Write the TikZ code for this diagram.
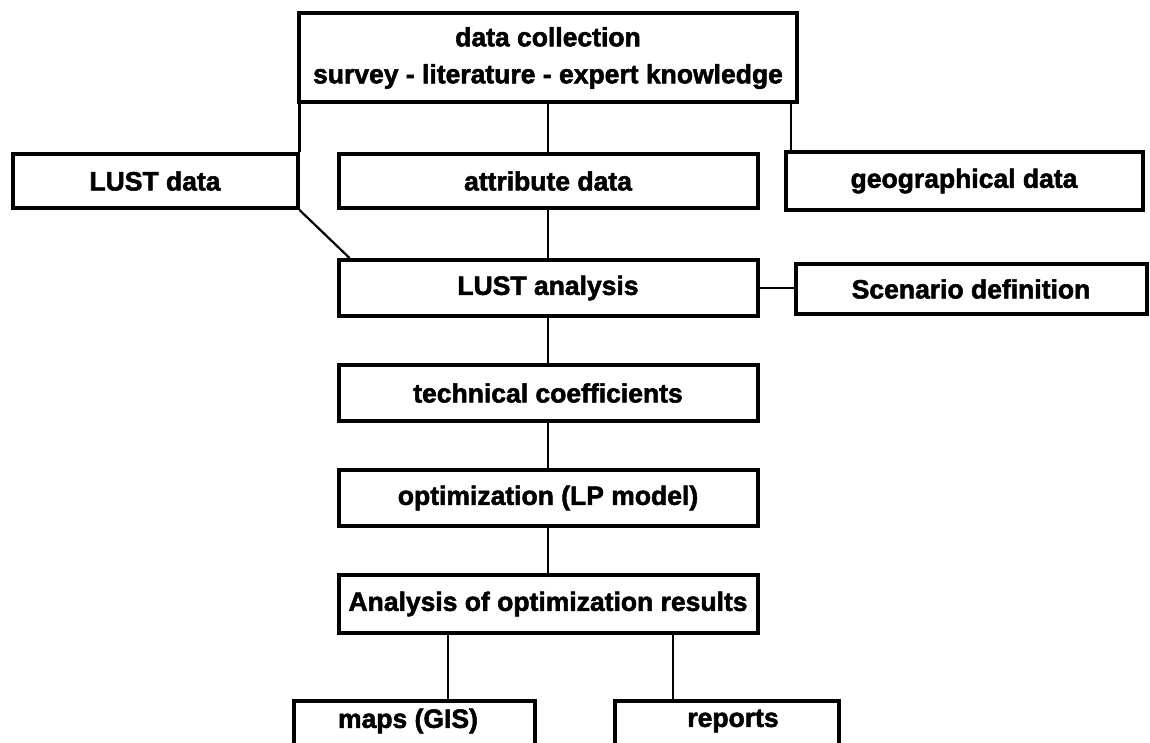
\documentclass[tikz,border=0pt]{standalone}
\usepackage{fontspec}
\setmainfont{Liberation Sans}[FakeBold=2]
\usetikzlibrary{positioning,shadows}

\begin{document}
\begin{tikzpicture}[x=1pt,y=1pt,
					thick,
					box/.style={draw,line width=4pt,fill=white,inner sep=0pt,
					  align=center,font=\fontsize{26.5}{37}\selectfont\bfseries,
					  drop shadow={shadow xshift=1pt,shadow yshift=-2pt,fill=black,opacity=1}},
					label text/.style={font=\fontsize{26.5}{37}\selectfont\bfseries},
					link/.style={line width=2.2pt}]

  \useasboundingbox (0,0) rectangle (1150,-743);
  \clip (0,0) rectangle (1150,-743);

  \node[box,minimum width=498,minimum height=89] (dc) at (548,-58)
    {data collection\\survey - literature - expert knowledge};
  \node[box,minimum width=285,minimum height=54] (lustd) at (155,-181) {LUST data};
  \node[box,minimum width=419,minimum height=54] (attr) at (548,-181) {attribute data};
  \node[box,minimum width=357,minimum height=58] (geo) at (964,-181) {geographical data};
  \node[box,minimum width=419,minimum height=56] (lusta) at (548,-288) {LUST analysis};
  \node[box,minimum width=351,minimum height=50] (scen) at (971,-289) {Scenario definition};
  \node[box,minimum width=419,minimum height=56] (tech) at (548,-393) {technical coefficients};
  \node[box,minimum width=419,minimum height=56] (opt) at (548,-498) {optimization (LP model)};
  \node[box,minimum width=419,minimum height=58] (res) at (548,-604)
    {Analysis of optimization results};
  \node[box,minimum width=241,minimum height=70,anchor=north] (maps) at (414,-699) {};
  \node[label text] at (408,-721) {maps (GIS)};
  \node[box,minimum width=224,minimum height=70,anchor=north] (rep) at (727,-699) {};
  \node[label text] at (733,-721) {reports};

  \draw[link] (lustd.north east) -- (lustd.north east |- dc.south);
  \draw[link] (dc.south) -- (attr.north);
  \draw[link] ([xshift=-8pt]dc.south east) -- ([xshift=-8pt]dc.south east |- geo.north);
  \draw[link] (lustd.south east) -- ([xshift=13pt]lusta.north west);
  \draw[link] (attr.south) -- (lusta.north);
  \draw[link] (lusta.east) -- (lusta.east -| scen.west);
  \draw[link] (lusta.south) -- (tech.north);
  \draw[link] (tech.south) -- (opt.north);
  \draw[link] (opt.south) -- (res.north);
  \draw[link] (res.south -| 448,0) -- (maps.north -| 448,0);
  \draw[link] (res.south -| 673,0) -- (rep.north -| 673,0);
\end{tikzpicture}
\end{document}
